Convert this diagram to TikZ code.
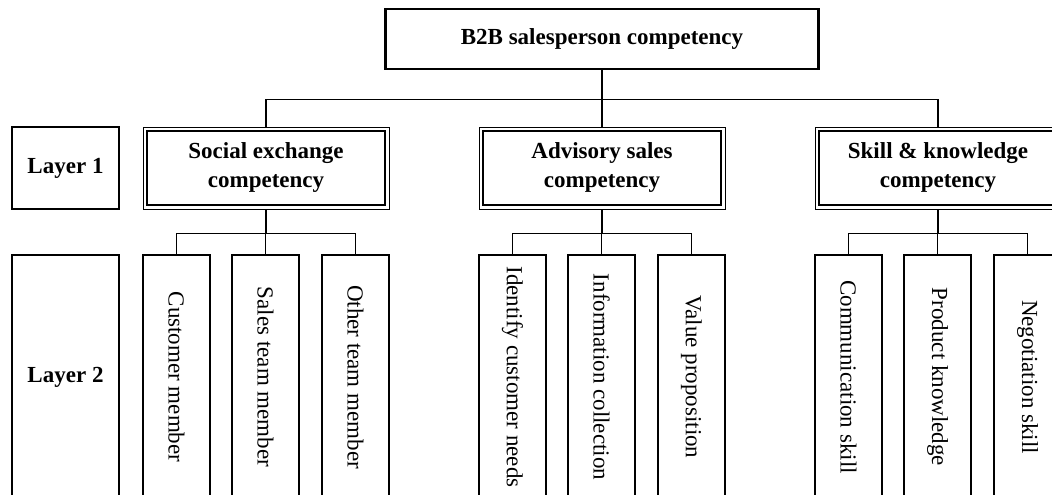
\documentclass[tikz,border=0pt]{standalone}
\usepackage{fontspec}
\setmainfont{Liberation Serif}
\begin{document}
\begin{tikzpicture}[x=1pt,y=-1pt,
  every node/.style={font=\fontsize{23}{29}\selectfont},
  topbox/.style={draw,line width=2.2pt,minimum width=433pt,minimum height=60pt,inner sep=0pt,font=\fontsize{23}{29}\selectfont\bfseries},
  labbox/.style={draw,line width=1.2pt,minimum width=107pt,inner sep=0pt,font=\fontsize{23}{29}\selectfont\bfseries},
  lonebox/.style={draw,line width=0.9pt,minimum width=246pt,minimum height=82pt,inner sep=0pt,align=center,font=\fontsize{23}{29}\selectfont\bfseries},
  ltwobox/.style={draw,line width=1.2pt,minimum width=244pt,minimum height=67pt,inner sep=0pt,rotate=-90},
  conn/.style={line width=1.2pt}]
\useasboundingbox (0,0) rectangle (1052,495);
\clip (0,0) rectangle (1052,495);
% top
\node[topbox] (top) at (602,39) {B2B salesperson competency};
% layer labels
\node[labbox,minimum height=82pt] (l1) at (65.5,168) {Layer 1};
\node[labbox,minimum height=244pt] (l2) at (65.5,377) {Layer 2};
% layer 1
\node[lonebox] (soc) at (266,168) {Social exchange\\competency};
\node[lonebox] (adv) at (602,168) {Advisory sales\\competency};
\node[lonebox] (ski) at (938,168) {Skill \& knowledge\\competency};
\foreach \n in {soc,adv,ski}{
  \draw[line width=1.5pt] ([shift={(4.5,4.5)}]\n.north west) rectangle ([shift={(-4.5,-4.5)}]\n.south east);
}
% layer 2
\node[ltwobox] (cm) at (176.5,377) {Customer member};
\node[ltwobox] (st) at (265.5,377) {Sales team member};
\node[ltwobox] (ot) at (355.5,377) {Other team member};
\node[ltwobox] (ic) at (512.5,377) {Identify customer needs};
\node[ltwobox] (inf) at (601.5,377) {Information collection};
\node[ltwobox] (vp) at (691.5,377) {Value proposition};
\node[ltwobox] (cs) at (848.5,377) {Communication skill};
\node[ltwobox] (pk) at (937.5,377) {Product knowledge};
\node[ltwobox] (ns) at (1027.5,377) {Negotiation skill};
% connectors
\foreach \c in {soc,adv,ski}{
  \draw[conn] (top.south) -- ++(0,29) -| (\c.north);
}
\foreach \p/\c in {soc/cm,soc/st,soc/ot,adv/ic,adv/inf,adv/vp,ski/cs,ski/pk,ski/ns}{
  \draw[conn] (\p.south) -- ++(0,24) -| (\c.west);
}
\end{tikzpicture}
\end{document}
